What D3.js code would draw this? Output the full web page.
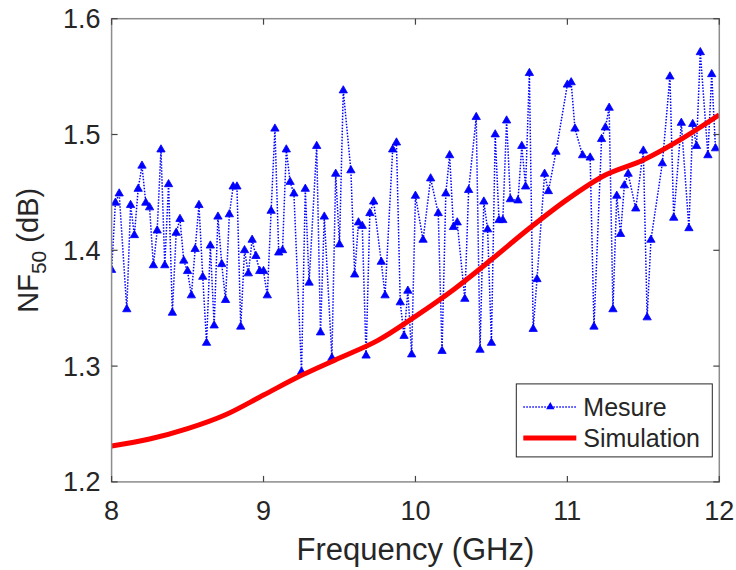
<!DOCTYPE html>
<html>
<head>
<meta charset="utf-8">
<script src="https://cdn.jsdelivr.net/npm/d3@7"></script>
<style>
  body { margin: 0; background: #fff; }
  text { font-family: "Liberation Sans", Arial, sans-serif; }
</style>
</head>
<body>
<div id="chart"></div>
<script>
// measured points (GHz / dB)
const mesureFreq = [
  8.000, 8.025, 8.050, 8.100, 8.125, 8.150, 8.175, 8.200, 8.225, 8.250,
  8.275, 8.300, 8.325, 8.350, 8.375, 8.400, 8.425, 8.450, 8.475, 8.500,
  8.525, 8.550, 8.575, 8.600, 8.625, 8.650, 8.675, 8.700, 8.725, 8.750,
  8.775, 8.800, 8.825, 8.850, 8.875, 8.900, 8.925, 8.950, 8.975, 9.000,
  9.025, 9.050, 9.075, 9.100, 9.125, 9.150, 9.175, 9.200, 9.250, 9.275,
  9.300, 9.350, 9.375, 9.400, 9.450, 9.475, 9.500, 9.525, 9.575, 9.600,
  9.625, 9.650, 9.675, 9.700, 9.725, 9.775, 9.800, 9.850, 9.875, 9.900,
  9.925, 9.950, 9.975, 10.000, 10.050, 10.100, 10.150, 10.175, 10.200, 10.225,
  10.250, 10.275, 10.325, 10.350, 10.400, 10.425, 10.450, 10.475, 10.500, 10.525,
  10.550, 10.575, 10.600, 10.625, 10.675, 10.700, 10.725, 10.750, 10.775, 10.800,
  10.850, 10.875, 10.925, 11.000, 11.025, 11.050, 11.100, 11.150, 11.175, 11.225,
  11.250, 11.275, 11.300, 11.325, 11.350, 11.375, 11.400, 11.450, 11.500, 11.525,
  11.550, 11.625, 11.675, 11.700, 11.750, 11.800, 11.825, 11.850, 11.875, 11.925,
  11.950, 11.975
];
const mesureNF = [
  1.383, 1.441, 1.449, 1.349, 1.439, 1.413, 1.453, 1.473, 1.441, 1.437,
  1.387, 1.417, 1.487, 1.387, 1.457, 1.346, 1.415, 1.427, 1.391, 1.382,
  1.361, 1.401, 1.439, 1.377, 1.320, 1.404, 1.335, 1.429, 1.388, 1.357,
  1.431, 1.455, 1.455, 1.334, 1.400, 1.380, 1.409, 1.395, 1.382, 1.382,
  1.361, 1.434, 1.505, 1.398, 1.400, 1.487, 1.459, 1.449, 1.295, 1.453,
  1.372, 1.490, 1.329, 1.429, 1.307, 1.466, 1.405, 1.538, 1.469, 1.379,
  1.424, 1.421, 1.309, 1.432, 1.442, 1.390, 1.361, 1.487, 1.493, 1.355,
  1.326, 1.365, 1.310, 1.447, 1.409, 1.462, 1.432, 1.313, 1.449, 1.482,
  1.420, 1.424, 1.358, 1.452, 1.515, 1.314, 1.442, 1.418, 1.320, 1.500,
  1.426, 1.426, 1.512, 1.444, 1.443, 1.490, 1.455, 1.553, 1.332, 1.375,
  1.466, 1.451, 1.485, 1.543, 1.545, 1.505, 1.482, 1.480, 1.334, 1.496,
  1.506, 1.523, 1.349, 1.447, 1.414, 1.456, 1.466, 1.436, 1.486, 1.342,
  1.409, 1.475, 1.550, 1.428, 1.510, 1.419, 1.509, 1.490, 1.571, 1.482,
  1.552, 1.488
];

// simulated curve
const simFreq = [8.00, 8.25, 8.50, 8.75, 9.00, 9.25, 9.50, 9.75, 10.00,
                 10.25, 10.50, 10.75, 11.00, 11.25, 11.50, 11.75, 12.00];
const simNF = [1.231, 1.237, 1.246, 1.258, 1.275, 1.292, 1.307, 1.322, 1.343,
               1.366, 1.392, 1.419, 1.444, 1.465, 1.478, 1.496, 1.517];

const xTicks = [8, 9, 10, 11, 12];
const yTicks = [1.2, 1.3, 1.4, 1.5, 1.6];
const legendLabels = ["Mesure", "Simulation"];

const W = 736, H = 570;
const margin = { top: 18.7, right: 16.7, bottom: 88.1, left: 111.6 };
const width = W - margin.left - margin.right;
const height = H - margin.top - margin.bottom;

const mesure = mesureFreq.map((f, i) => ({ f, v: mesureNF[i] }));
const sim = simFreq.map((f, i) => ({ f, v: simNF[i] }));

const svgRoot = d3.select("#chart").append("svg")
  .attr("width", W).attr("height", H);
const svg = svgRoot.append("g")
  .attr("transform", `translate(${margin.left},${margin.top})`);

const x = d3.scaleLinear().domain([8, 12]).range([0, width]);
const y = d3.scaleLinear().domain([1.2, 1.6]).range([height, 0]);

const axisColor = "#8c8c8c";
const textColor = "#262626";
const tickLen = 6;

// clip for the data
svg.append("clipPath").attr("id", "clip")
  .append("rect").attr("width", width).attr("height", height);

const plot = svg.append("g").attr("clip-path", "url(#clip)");

// measured line, dotted with triangles
plot.append("path")
  .datum(mesure)
  .attr("fill", "none")
  .attr("stroke", "#0000ff")
  .attr("stroke-width", 1.5)
  .attr("stroke-dasharray", "1.5,1.5")
  .attr("d", d3.line().x(d => x(d.f)).y(d => y(d.v)));

const tri = d3.symbol().type(d3.symbolTriangle).size(30);
plot.selectAll(".mk")
  .data(mesure)
  .join("path")
  .attr("class", "mk")
  .attr("transform", d => `translate(${x(d.f)},${y(d.v)})`)
  .attr("d", tri)
  .attr("fill", "#0000ff")
  .attr("stroke", "#0000ff")
  .attr("stroke-width", 0.8);

// simulation
plot.append("path")
  .datum(sim)
  .attr("fill", "none")
  .attr("stroke", "#ff0000")
  .attr("stroke-width", 5)
  .attr("d", d3.line().curve(d3.curveMonotoneX).x(d => x(d.f)).y(d => y(d.v)));

// box
svg.append("rect")
  .attr("width", width).attr("height", height)
  .attr("fill", "none")
  .attr("stroke", axisColor)
  .attr("stroke-width", 1.5);

// ticks (inward, mirrored)
const ticks = svg.append("g");
xTicks.forEach(t => {
  ticks.append("line").attr("x1", x(t)).attr("x2", x(t))
    .attr("y1", height).attr("y2", height - tickLen);
  ticks.append("line").attr("x1", x(t)).attr("x2", x(t))
    .attr("y1", 0).attr("y2", tickLen);
});
yTicks.forEach(t => {
  ticks.append("line").attr("x1", 0).attr("x2", tickLen)
    .attr("y1", y(t)).attr("y2", y(t));
  ticks.append("line").attr("x1", width).attr("x2", width - tickLen)
    .attr("y1", y(t)).attr("y2", y(t));
});
ticks.selectAll("line").attr("stroke", "#444").attr("stroke-width", 1.2);

// tick labels
svg.selectAll(".xl")
  .data(xTicks)
  .join("text")
  .attr("x", d => x(d))
  .attr("y", height + 38)
  .attr("text-anchor", "middle")
  .attr("font-size", 27)
  .attr("fill", textColor)
  .text(d => d);

svg.selectAll(".yl")
  .data(yTicks)
  .join("text")
  .attr("x", -11)
  .attr("y", d => y(d))
  .attr("dy", "0.35em")
  .attr("text-anchor", "end")
  .attr("font-size", 27)
  .attr("fill", textColor)
  .text(d => d3.format(".1f")(d));

// axis labels
svg.append("text")
  .attr("x", width / 2)
  .attr("y", height + 78)
  .attr("text-anchor", "middle")
  .attr("font-size", 31)
  .attr("fill", textColor)
  .text("Frequency (GHz)");

const yLab = svg.append("text")
  .attr("transform", `translate(${-margin.left + 38}, ${height / 2}) rotate(-90)`)
  .attr("text-anchor", "middle")
  .attr("font-size", 29)
  .attr("fill", textColor);
yLab.append("tspan").text("NF");
yLab.append("tspan").attr("font-size", 21).attr("dy", 8).text("50");
yLab.append("tspan").attr("dy", -8).text(" (dB)");

// legend (placed in the lower right corner of the axes)
const lgW = 196, lgH = 73;
const lg = svg.append("g")
  .attr("transform", `translate(${width - lgW - 7},${height - lgH - 25})`);
lg.append("rect")
  .attr("width", lgW).attr("height", lgH)
  .attr("fill", "#fff")
  .attr("stroke", textColor)
  .attr("stroke-width", 1);
lg.append("line")
  .attr("x1", 7).attr("x2", 60).attr("y1", 23).attr("y2", 23)
  .attr("stroke", "#0000ff").attr("stroke-width", 1.5)
  .attr("stroke-dasharray", "1.5,1.5");
lg.append("path")
  .attr("transform", "translate(34,23)")
  .attr("d", tri).attr("fill", "#0000ff");
lg.append("line")
  .attr("x1", 7).attr("x2", 60).attr("y1", 54).attr("y2", 54)
  .attr("stroke", "#ff0000").attr("stroke-width", 5);
lg.selectAll(".lt")
  .data(legendLabels)
  .join("text")
  .attr("x", 67)
  .attr("y", (d, i) => 23 + i * 31)
  .attr("dy", "0.35em")
  .attr("font-size", 25)
  .attr("fill", textColor)
  .text(d => d);
</script>
</body>
</html>
